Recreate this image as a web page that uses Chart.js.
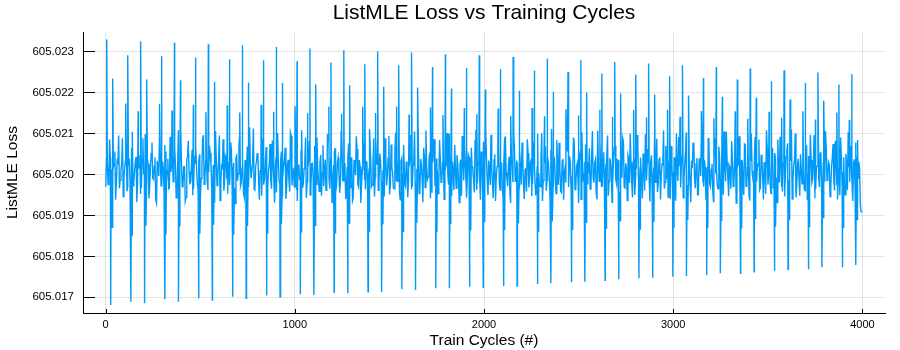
<!DOCTYPE html>
<html>
<head>
<meta charset="utf-8">
<title>ListMLE Loss vs Training Cycles</title>
<script src="https://cdn.jsdelivr.net/npm/chart.js@4.4.0/dist/chart.umd.min.js"></script>
<style>
    html, body { margin: 0; padding: 0; background: #fff; }
    #wrap { width: 900px; height: 350px; }
</style>
</head>
<body>
<div id="wrap"><canvas id="lossChart" width="900" height="350"></canvas></div>
<script>
/** --------------------DATA-------------------- */

// loss values are kept as offsets from 605.020, in millionths
const lossBase = 605.02;
const lossUnit = 1e-6;

const xTicks = [0, 1000, 2000, 3000, 4000];
const yTicks = [605.017, 605.018, 605.019, 605.020, 605.021, 605.022, 605.023];

// the noisy band, read every 8 cycles starting at cycle 1
const bandStart = 1;
const bandStep = 8;
const bandLoss = [
    -300, 320, -120, 410, -250, 180, 560, -180, 290, -340, 120, 880, -60, 350, -410, 220, -150, 640, -280, 90,
    430, -220, 160, -480, 370, 40, 980, -130, 260, -300, 510, -90, 200, -620, 330, -40, 470, -260, 150, 720,
    -190, 380, -330, 60, 540, -150, 240, -420, 1080, -20, 310, -270, 190, -560, 420, 80, -200, 600, -350, 270,
    130, -380, 490, -100, 860, -240, 340, -170, 60, 520, -310, 230, -690, 380, -50, 950, -210, 170, -400, 450,
    -120, 300, -260, 610, 20, -330, 410, -160, 740, -280, 160, -470, 350, 110, -230, 1150, -90, 280, -360, 200,
    500, -200, 90, -520, 390, -70, 670, -310, 250, -140, 830, -40, 180, -440, 300, -230, 560, -100, 370, -600,
    240, -150, 1020, -270, 120, 460, -380, 210, -90, 590, -330, 140, 900, -180, 320, -500, 260, -60, 700, -240,
    170, -410, 480, 30, -290, 360, -140, 810, -350, 200, -80, 540, -450, 290, 60, -210, 1100, -160, 230, -370,
    430, -110, 280, -640, 350, -20, 620, -300, 190, -230, 760, -120, 310, -480, 150, 400, -260, 880, -70, 240,
    -390, 510, -180, 100, -540, 420, -30, 940, -250, 170, -330, 600, -140, 270, -410, 330, 10, 720, -290, 180,
    -150, 450, -360, 230, 1050, -200, 80, -470, 380, -100, 650, -320, 210, -60, 530, -430, 300, 860, -170, 120,
    -280, 400, -130, 580, -590, 260, -20, 990, -240, 310, -380, 160, 470, -110, 250, -520, 360, 700, -190, 50,
    420, -300, 190, -160, 820, -360, 280, -70, 560, -440, 220, 1120, -130, 340, -260, 130, -580, 490, -40, 650,
    -220, 300, -350, 170, 930, -90, 240, -480, 410, -190, 620, -10, 290, -330, 180, 780, -270, 110, -420, 520,
    -60, 350, -230, 690, -510, 200, 40, -300, 1010, -150, 270, -400, 440, -80, 590, -340, 230, -120, 840, -260,
    150, -440, 380, 70, -200, 560, -310, 260, -50, 900, -370, 190, -140, 480, -610, 320, 20, 730, -230, 140,
    -360, 460, -100, 280, -450, 1070, -170, 200, -290, 540, -30, 310, -520, 400, 90, -250, 660, -150, 360, -400,
    220, -80, 800, -330, 150, 470, -210, 290, -560, 370, -60, 960, -280, 180, -130, 510, -390, 250, 620, -100,
    300, -470, 160, -190, 870, -240, 420, -20, 240, -350, 700, -110, 330, -600, 270, 60, -280, 1000, -160, 210,
    -320, 490, -70, 580, -430, 190, -240, 340, 760, -120, 260, -500, 390, -40, 610, -300, 170, -180, 890, -230,
    130, -380, 450, 20, -260, 680, -150, 310, -490, 230, 1040, -90, 200, -350, 420, -200, 570, -30, 280, -440,
    360, -120, 740, -290, 180, -530, 330, 90, -220, 910, -170, 250, -380, 480, -60, 300, -470, 640, 110, -250,
    210, -340, 520, -80, 850, -200, 270, -420, 380, -10, 600, -310, 160, 1090, -140, 320, -560, 230, -100, 490,
    -230, 170, -400, 710, 40, -280, 350, -130, 960, -360, 200, -70, 540, -450, 290, -180, 630, -20, 240, -330,
    400, -150, 820, -260, 140, -510, 370, 60, -210, 500, -380, 180, 690, -120, 260, -300, 430, -90, 150, -910
];

// the same band, read half way between (cycle 5, 13, 21, ...)
const bandMidStart = 5;
const bandMidLoss = [
    410, -250, 850, 120, -380, 260, -620, 330, 950, -140, 270, -540, 180, 720, -300, 390, -90, 1040, -210, 300,
    -680, 240, 470, -330, 880, 60, -260, 350, -590, 200, 780, -120, 420, -700, 150, 1000, -280, 310, -460, 560,
    90, -350, 920, 230, -180, 640, -570, 280, 40, 1090, -300, 190, -650, 370, 820, -220, 130, -510, 450, 730,
    -240, 330, -600, 170, 960, -90, 410, -380, 700, 250, -530, 60, 1060, -270, 320, -640, 210, 860, -150, 380,
    -470, 140, 780, -330, 280, -710, 460, 20, 990, -200, 350, -560, 170, 680, -310, 240, -90, 1120, -380, 300,
    520, -620, 190, 870, -250, 380, -480, 100, 740, -350, 260, -690, 420, 1010, -160, 310, -530, 200, 650, -280,
    360, -420, 940, 80, -300, 590, -650, 240, -60, 1080, -220, 330, -570, 160, 800, -340, 270, -610, 480, 900,
    -180, 300, -520, 710, 140, -390, 990, -110, 370, -680, 230, 640, -260, 410, -450, 1050, -140, 280, -600, 190,
    760, -320, 420, -560, 210, 930, -240, 350, -700, 120, 620, -360, 290, -80, 1100, -300, 180, -540, 440, 820,
    -210, 340, -640, 160, 880, -270, 400, -490, 730, 50, -350, 1020, -170, 260, -620, 390, 690, -230, 310, -560,
    200, 960, -300, 370, -520, 140, 790, -400, 250, -680, 450, 1070, -120, 330, -580, 220, 660, -280, 390, -470,
    840, -190, 300, -610, 170, 1010, -250, 420, -530, 80, 720, -340, 280, -690, 360, 940, -150, 230, -570, 480,
    -330, 650, 110, -440, 1090, -210, 320, -620, 240, 800, -300, 410, -500, 150, 970, -260, 350, -650, 190, 710,
    -380, 260, -560, 900, 40, -290, 430, -700, 210, 1040, -170, 340, -480, 620, -250, 380, -600, 160, 860, -320,
    290, -530, 750, 130, -360, 990, -230, 300, -650, 410, 680, -140, 260, -590, 1110, -280, 350, -470, 200, 770,
    -410, 330, -620, 180, 920, -260, 440, -540, 90, 760, -330, 270, -700, 380, 1030, -180, 310, -580, 220, 640,
    -350, 1060, -200, 360, -610, 150, 820, -290, 400, -520, 250, 950, -160, 300, -680, 430, 700, -240, 340, -560,
    180, 890, -310, 270, -640, 390, 1000, -220, 320, -500, 130, 740, -370, 410, -590, 200, 980, -150, 290, -660,
    470, -280, 830, 60, -430, 360, -610, 250, 1070, -190, 340, -550, 170, 690, -300, 420, -640, 110, 910, -240,
    380, -570, 220, 1020, -260, 310, -680, 150, 770, -340, 400, -490, 280, 960, -200, 350, -620, 190, 700, -300,
    260, -660, 870, 100, -350, 440, -580, 230, 1050, -170, 300, -530, 140, 810, -290, 370, -700, 210, 930, -230,
    340, -500, 720, -180, 280, -640, 990, -120, 410, -560, 200, 850, -330, 360, -610, 170, 1080, -250, 310, -470,
    650, -210, 390, -690, 160, 920, -300, 270, -540, 430, 760, -140, 330, -600, 240, 1000, -280, 380, -520, 120,
    800, -360, 290, -630, 450, 970, -200, 320, -580, 180, 690, -310, 410, -670, 260, 1060, -150, 300, -540, 210,
    740, -390, 350, -610, 130, 900, -270, 420, -500, 230, 1030, -180, 280, -650, 370, 780, -240, 310, -720, -900
];

// the spikes repeat every ~179 cycles, each group of spikes starts here
const periodStart = [6, 185, 364, 543, 722, 901, 1080, 1259, 1438, 1617, 1796, 1975,
    2154, 2333, 2512, 2691, 2870, 3049, 3228, 3407, 3586, 3765, 3944];

// big spike up at the start of each period
const peakLoss = [3293, 3251, 3220, 3178, 3154, 3112, 3073, 3032, 3007, 2976, 2934, 2910,
    2868, 2829, 2788, 2746, 2707, 2666, 2624, 2585, 2544, 2488, 2446];
// big drop 21 cycles in
const dropALoss = [-3188, -3146, -3107, -3066, -3024, -2985, -2944, -2902, -2878, -2822, -2780, -2756,
    -2724, -2659, -2620, -2561, -2522, -2480, -2415, -2376, -2317, -2268, -2212];
// smaller dip 28 cycles in
const dipALoss = [-1290, -1250, -1270, -1230, -1260, -1210, -1240, -1190, -1220, -1180, -1210, -1160,
    -1190, -1150, -1170, -1130, -1160, -1110, -1140, -1090, -1120, -1070, -1100];
// third peak 32 cycles in
const peak3Loss = [2341, 2317, 2300, 2259, 2244, 2234, 2202, 2178, 2137, 2122, 2098, 2073,
    2039, 2015, 2000, 1976, 1951, 1927, 1893, 1868, 1829, 1795, 837];
// bump 100 cycles in
const bumpALoss = [1730, 1720, 1700, 1690, 1700, 1670, 1660, 1650, 1660, 1630, 1620, 1610,
    1620, 1590, 1580, 1570, 1580, 1550, 1540, 1530, 1540, 1510];
// second peak 111 cycles in
const peak2Loss = [2910, 2885, 2854, 2812, 2788, 2763, 2732, 2690, 2666, 2624, 2600, 2568,
    2537, 2502, 2463, 2439, 2398, 2356, 2317, 2276, 2234, 2195];
// second drop 128 cycles in
const dropBLoss = [-3107, -3049, -3024, -2985, -2956, -2927, -2878, -2863, -2805, -2780, -2741, -2724,
    -2676, -2634, -2585, -2537, -2498, -2456, -2415, -2351, -2317, -2268];
// smaller dip 134 cycles in
const dipBLoss = [-1480, -1460, -1450, -1470, -1430, -1420, -1440, -1400, -1390, -1410, -1370, -1360,
    -1380, -1340, -1330, -1350, -1310, -1300, -1320, -1280, -1270, -1290];
// bump 166 cycles in
const bumpBLoss = [1540, 1560, 1520, 1510, 1530, 1490, 1480, 1500, 1460, 1450, 1470, 1430,
    1420, 1440, 1400, 1390, 1410, 1370, 1360, 1380, 1340, 1330];

const spikeGroups = [
    {offset: 0, values: peakLoss},
    {offset: 21, values: dropALoss},
    {offset: 28, values: dipALoss},
    {offset: 32, values: peak3Loss},
    {offset: 100, values: bumpALoss},
    {offset: 111, values: peak2Loss},
    {offset: 128, values: dropBLoss},
    {offset: 134, values: dipBLoss},
    {offset: 166, values: bumpBLoss},
];

/** --------------------BUILD SERIES-------------------- */

function buildSeries() {
    let points = [];
    for (let i = 0; i < bandLoss.length; i++) {
        points.push({x: bandStart + i * bandStep, y: lossBase + bandLoss[i] * lossUnit});
    }
    for (let i = 0; i < bandMidLoss.length; i++) {
        points.push({x: bandMidStart + i * bandStep, y: lossBase + bandMidLoss[i] * lossUnit});
    }
    spikeGroups.forEach(group => {
        for (let k = 0; k < group.values.length; k++) {
            points.push({x: periodStart[k] + group.offset, y: lossBase + group.values[k] * lossUnit});
        }
    });
    points.sort((a, b) => a.x - b.x);
    return points;
}

/** --------------------CHART-------------------- */

const fontFamily = "'Liberation Sans', Arial, Helvetica, sans-serif";

// GR style ticks that point into the plot
const innerTicks = {
    id: 'innerTicks',
    afterDraw(chart) {
        const ctx = chart.ctx;
        const area = chart.chartArea;
        const xs = chart.scales.x;
        const ys = chart.scales.y;
        ctx.save();
        ctx.strokeStyle = '#000';
        ctx.lineWidth = 1;
        ctx.beginPath();
        xTicks.forEach(v => {
            let px = Math.round(xs.getPixelForValue(v)) + 0.5;
            ctx.moveTo(px, area.bottom);
            ctx.lineTo(px, area.bottom - 4);
        });
        yTicks.forEach(v => {
            let py = Math.round(ys.getPixelForValue(v)) + 0.5;
            ctx.moveTo(area.left, py);
            ctx.lineTo(area.left + 12, py);
        });
        ctx.stroke();
        ctx.restore();
    }
};

const ctx = document.getElementById('lossChart').getContext('2d');
const lossChart = new Chart(ctx, {
    type: 'line',
    data: {
        datasets: [{
            label: 'y1',
            data: buildSeries(),
            borderColor: '#009af9',
            borderWidth: 1.4,
            pointRadius: 0,
            tension: 0,
            fill: false,
        }]
    },
    options: {
        responsive: false,
        animation: false,
        events: [],
        layout: {
            padding: {left: 0, right: 15, top: 0, bottom: 0}
        },
        plugins: {
            legend: {display: false},
            tooltip: {enabled: false},
            title: {
                display: true,
                fullSize: false,
                text: 'ListMLE Loss vs Training Cycles',
                color: '#000',
                font: {family: fontFamily, size: 21, weight: 'normal'},
                padding: {top: 1, bottom: 6},
            },
        },
        scales: {
            x: {
                type: 'linear',
                min: -119.5,
                max: 4119.5,
                afterBuildTicks: scale => {
                    scale.ticks = xTicks.map(v => ({value: v}));
                },
                afterFit: scale => {
                    scale.height = 37;
                },
                ticks: {
                    color: '#000',
                    padding: 5,
                    maxRotation: 0,
                    font: {family: fontFamily, size: 11},
                    callback: value => String(value),
                },
                grid: {color: 'rgba(0,0,0,0.1)', drawTicks: false},
                border: {display: true, color: '#000', width: 1},
                title: {
                    display: true,
                    text: 'Train Cycles (#)',
                    color: '#000',
                    font: {family: fontFamily, size: 15.5},
                    padding: {top: 0, bottom: 0},
                },
            },
            y: {
                type: 'linear',
                min: 605.016617,
                max: 605.023471,
                afterBuildTicks: scale => {
                    scale.ticks = yTicks.map(v => ({value: v}));
                },
                afterFit: scale => {
                    scale.width = 83;
                },
                ticks: {
                    color: '#000',
                    padding: 9,
                    font: {family: fontFamily, size: 11.5},
                    callback: value => value.toFixed(3),
                },
                grid: {color: 'rgba(0,0,0,0.1)', drawTicks: false},
                border: {display: true, color: '#000', width: 1},
                title: {
                    display: true,
                    text: 'ListMLE Loss',
                    color: '#000',
                    font: {family: fontFamily, size: 15.5},
                    padding: {top: 3, bottom: 0},
                },
            }
        }
    },
    plugins: [innerTicks]
});
</script>
</body>
</html>
